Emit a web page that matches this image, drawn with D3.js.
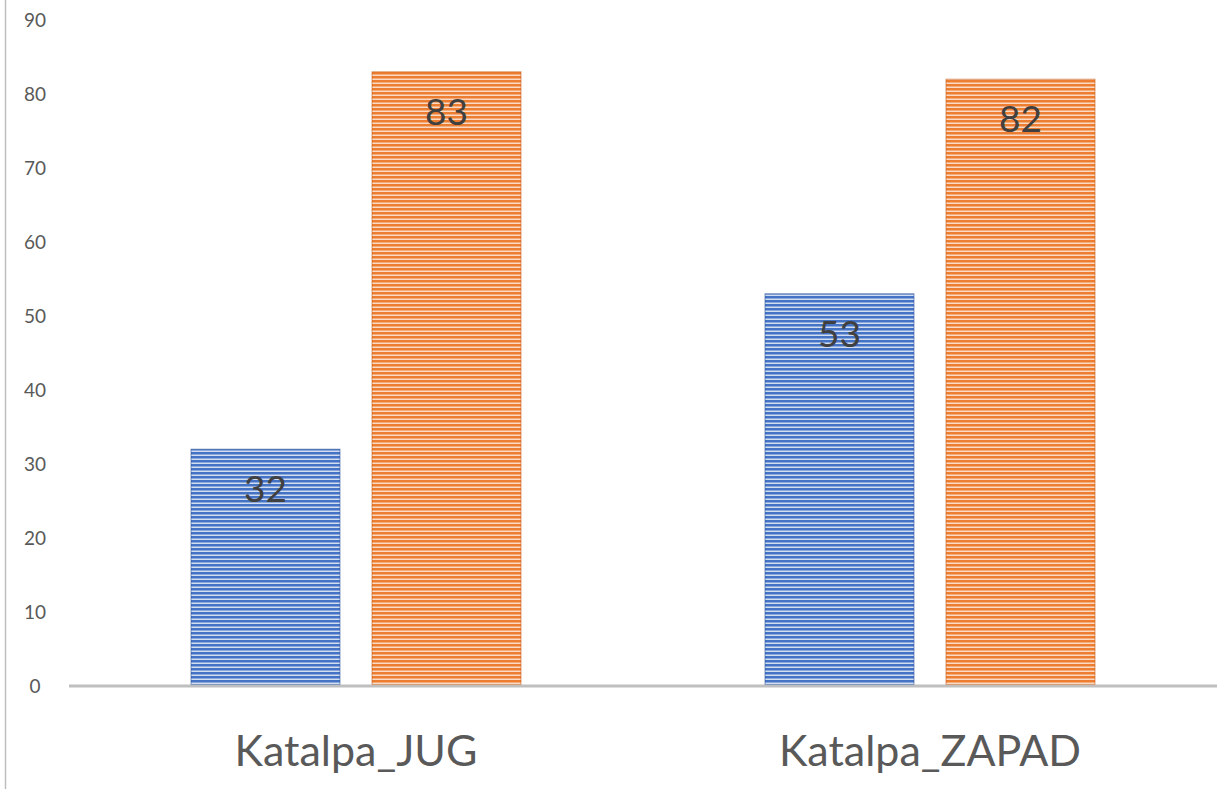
<!DOCTYPE html>
<html>
<head>
<meta charset="utf-8">
<script src="https://cdn.jsdelivr.net/npm/d3@7"></script>
<style>
  body { margin: 0; background: #fff; }
  svg { display: block; font-family: Lato, "Open Sans", sans-serif; }
</style>
</head>
<body>
<div id="grafiek"></div>
<script>
// data uit de grafiek
var categorieen = ["Katalpa_JUG", "Katalpa_ZAPAD"];
var reeksen = ["reeks1", "reeks2"];
var waardenBlauw = [32, 53];
var waardenOranje = [83, 82];
var tickWaarden = [0, 10, 20, 30, 40, 50, 60, 70, 80, 90];

var breedte = 1218, hoogte = 789;
var marge = {boven: 20, beneden: 103, rechts: 1, links: 69};

var svg = d3.select("#grafiek")
            .append("svg")
            .attr("width", breedte)
            .attr("height", hoogte);

// streep patronen voor de staven
var defs = svg.append("defs");
var patronen = [
  {id: "strepenBlauw", kleur: "#4472c4", licht: "#d2ddf2"},
  {id: "strepenOranje", kleur: "#ed7d31", licht: "#fadac4"}
];
patronen.forEach(function(p) {
  var pat = defs.append("pattern")
                .attr("id", p.id)
                .attr("patternUnits", "userSpaceOnUse")
                .attr("width", 8)
                .attr("height", 4);
  pat.append("rect").attr("width", 8).attr("height", 4).attr("fill", p.kleur);
  pat.append("rect").attr("y", 2.5).attr("width", 8).attr("height", 1.5).attr("fill", p.licht);
});

var x = d3.scaleBand()
          .domain(categorieen)
          .range([marge.links, breedte - marge.rechts]);

var y = d3.scaleLinear()
          .domain([0, 90])
          .range([hoogte - marge.beneden, marge.boven]);

// rand links
svg.append("line")
   .attr("x1", 5.5).attr("x2", 5.5)
   .attr("y1", 0).attr("y2", hoogte)
   .attr("stroke", "#bfbfbf")
   .attr("stroke-width", 1.5);

// y-as labels
svg.append("g")
   .selectAll("text")
   .data(tickWaarden)
   .enter().append("text")
   .attr("x", 35)
   .attr("y", function(d) { return y(d); })
   .attr("dy", "0.35em")
   .attr("text-anchor", "middle")
   .attr("fill", "#595959")
   .style("font-size", "19px")
   .text(function(d) { return d; });

var groepBreedte = 330;
var binnen = d3.scaleBand()
               .domain(reeksen)
               .range([0, groepBreedte])
               .paddingInner(32 / 181);

var data = [];
categorieen.forEach(function(c, i) {
  data.push({cat: c, reeks: "reeks1", waarde: waardenBlauw[i], vul: "url(#strepenBlauw)", rand: "#2f5597"});
  data.push({cat: c, reeks: "reeks2", waarde: waardenOranje[i], vul: "url(#strepenOranje)", rand: "#c55a11"});
});

function staafX(d) {
  return x(d.cat) + (x.bandwidth() - groepBreedte) / 2 + binnen(d.reeks);
}

svg.append("g")
   .selectAll("rect")
   .data(data)
   .enter().append("rect")
   .attr("x", staafX)
   .attr("y", function(d) { return y(d.waarde); })
   .attr("width", binnen.bandwidth())
   .attr("height", function(d) { return y(0) - y(d.waarde); })
   .attr("fill", function(d) { return d.vul; })
   .attr("stroke", function(d) { return d.rand; })
   .attr("stroke-opacity", 0.6)
   .attr("stroke-width", 1);

// x-as lijn
svg.append("line")
   .attr("x1", marge.links).attr("x2", breedte - marge.rechts)
   .attr("y1", y(0)).attr("y2", y(0))
   .attr("stroke", "#bfbfbf")
   .attr("stroke-width", 3);

// waarde labels
svg.append("g")
   .selectAll("text")
   .data(data)
   .enter().append("text")
   .attr("x", function(d) { return staafX(d) + binnen.bandwidth() / 2; })
   .attr("y", function(d) { return y(d.waarde) + 40; })
   .attr("dy", "0.35em")
   .attr("text-anchor", "middle")
   .attr("fill", "#404040")
   .style("font-size", "37px")
   .text(function(d) { return d.waarde; });

// categorie labels
svg.append("g")
   .selectAll("text")
   .data(categorieen)
   .enter().append("text")
   .attr("x", function(d) { return x(d) + x.bandwidth() / 2; })
   .attr("y", 766)
   .attr("text-anchor", "middle")
   .attr("fill", "#595959")
   .style("font-size", "43px")
   .text(function(d) { return d; });
</script>
</body>
</html>
